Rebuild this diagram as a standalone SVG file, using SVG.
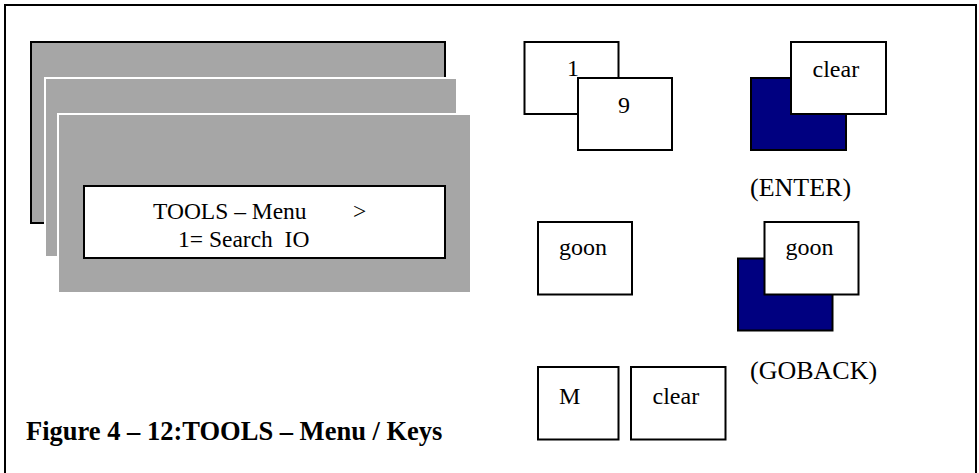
<svg xmlns="http://www.w3.org/2000/svg" width="979" height="473" viewBox="0 0 979 473">
<style>
.t{font-family:"Liberation Serif","Times New Roman",serif;fill:#000}
.k{fill:#fff;stroke:#000;stroke-width:2}
.n{fill:#000080;stroke:#000;stroke-width:2}
.g{fill:#a6a6a6}
</style>
<rect x="0" y="0" width="979" height="473" fill="#fff"/>
<g id="frame">
<path d="M5,473 V5 H976 V473" fill="none" stroke="#000" stroke-width="2"/>
</g>
<g id="display">
<rect class="g" x="31" y="42" width="414" height="181" stroke="#000" stroke-width="2"/>
<rect class="g" x="45" y="78" width="412" height="179" stroke="#fff" stroke-width="2"/>
<rect class="g" x="58" y="114" width="413" height="179" stroke="#fff" stroke-width="2"/>
<rect x="84" y="186" width="361" height="72" fill="#fff" stroke="#000" stroke-width="2"/>
<text class="t" x="153" y="218.5" font-size="23.5">TOOLS – Menu</text>
<text class="t" x="353" y="218.5" font-size="23.5">&gt;</text>
<text class="t" x="178" y="247" font-size="23.5" xml:space="preserve">1= Search  IO</text>
</g>
<g id="key-1-9">
<rect class="k" x="524.5" y="42" width="94" height="72"/>
<text class="t" x="567" y="76" font-size="24">1</text>
<rect class="k" x="578" y="78" width="94" height="72"/>
<text class="t" x="618" y="112.5" font-size="24">9</text>
</g>
<g id="key-enter">
<rect class="n" x="751" y="78" width="95" height="72"/>
<rect class="k" x="791" y="42" width="95" height="72"/>
<text class="t" x="812.5" y="77" font-size="24">clear</text>
<text class="t" x="750" y="196" font-size="26">(ENTER)</text>
</g>
<g id="key-goon">
<rect class="k" x="538" y="222" width="94" height="72.5"/>
<text class="t" x="559" y="255" font-size="24">goon</text>
</g>
<g id="key-goback">
<rect class="n" x="738" y="258.5" width="94.5" height="72"/>
<rect class="k" x="764.5" y="222" width="94" height="72.5"/>
<text class="t" x="785.5" y="255" font-size="24">goon</text>
<text class="t" x="750" y="378.5" font-size="26">(GOBACK)</text>
</g>
<g id="key-m">
<rect class="k" x="538" y="367" width="80.5" height="72.5"/>
<text class="t" x="559" y="403.5" font-size="24">M</text>
</g>
<g id="key-clear">
<rect class="k" x="631" y="367" width="94.5" height="72.5"/>
<text class="t" x="652.5" y="403.5" font-size="24">clear</text>
</g>
<g id="connectors"></g>
<g id="caption">
<text class="t" x="26" y="440" font-size="26.5" font-weight="bold">Figure 4 – 12:TOOLS – Menu / Keys</text>
</g>
</svg>
